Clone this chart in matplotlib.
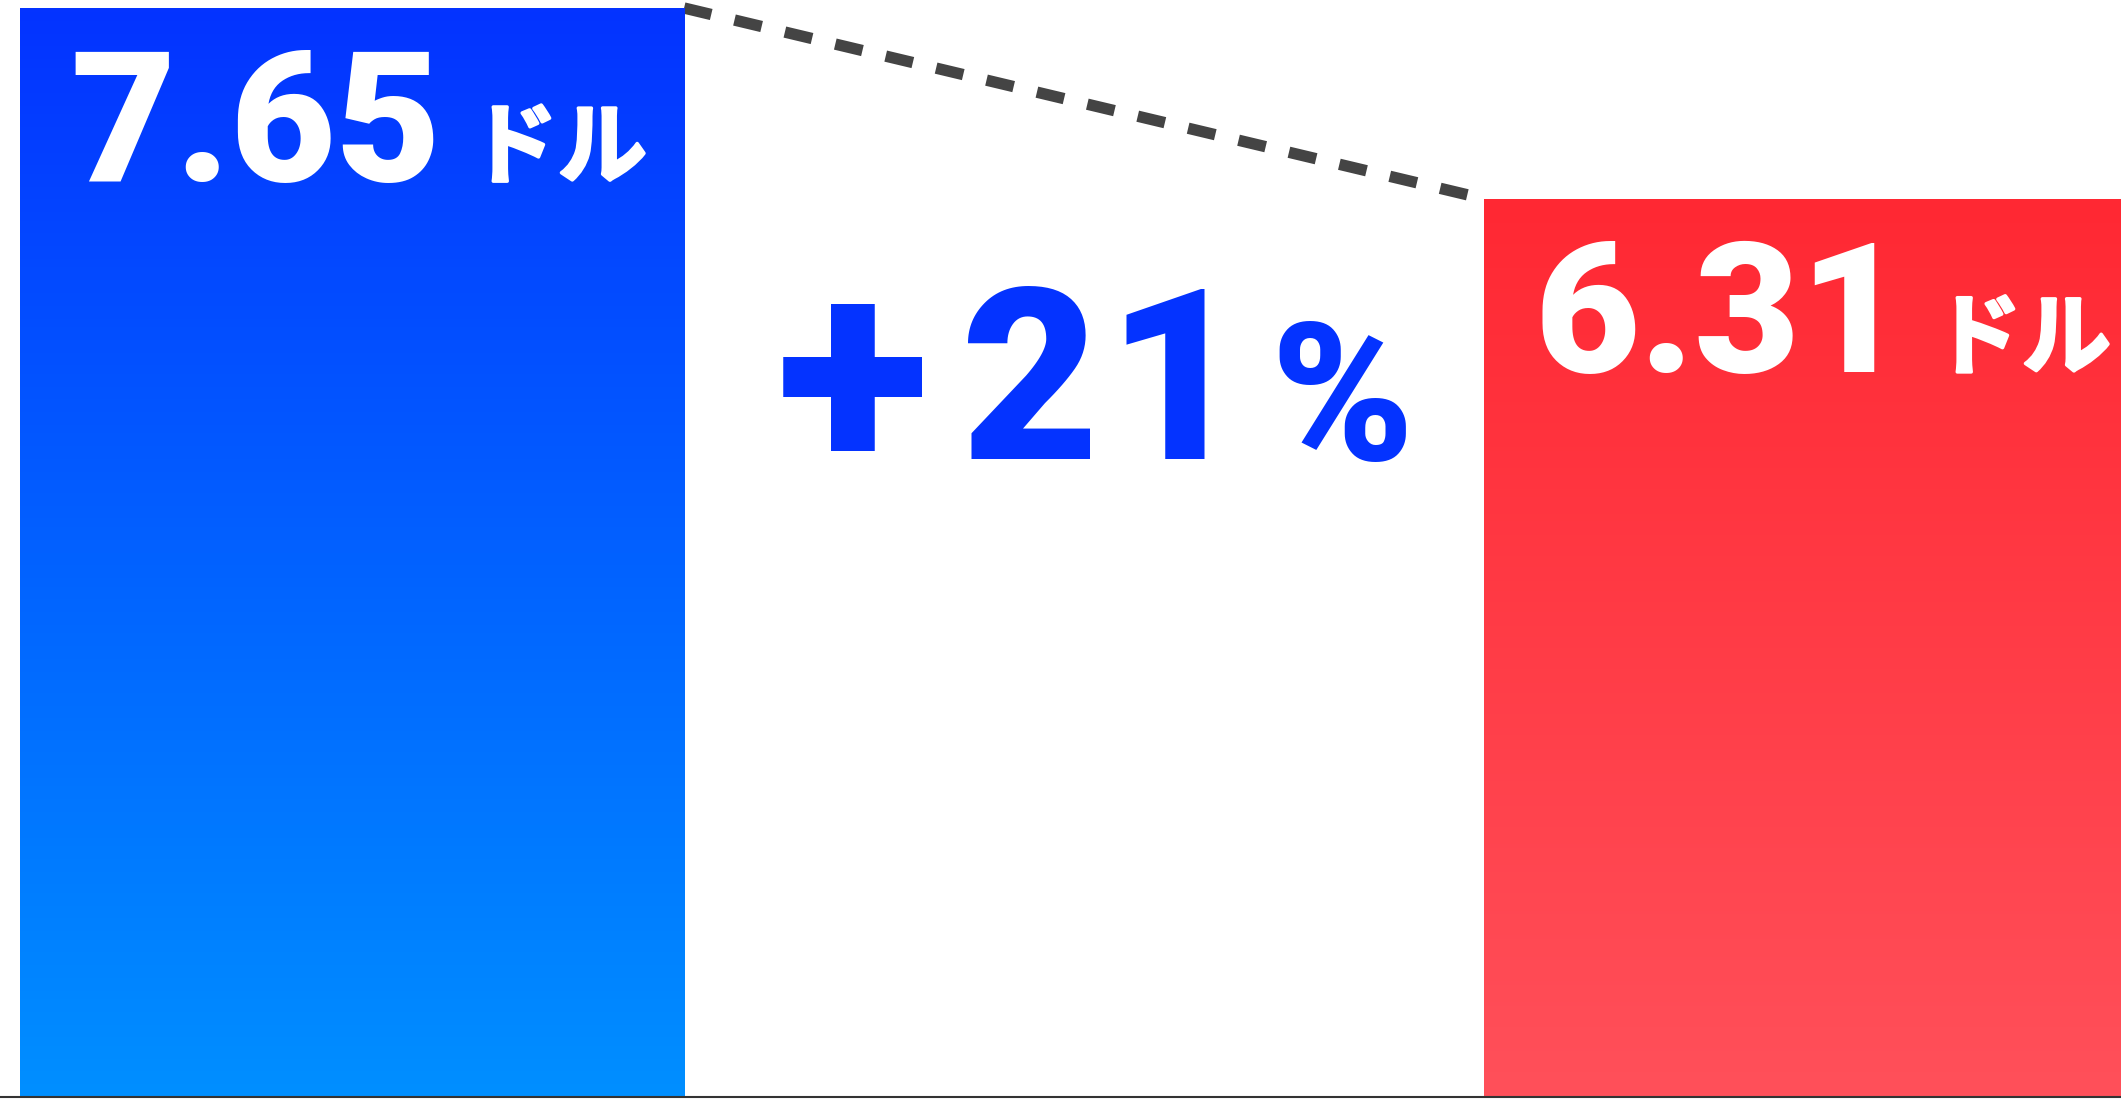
import numpy as np
import matplotlib.pyplot as plt
import matplotlib.patheffects as pe
from matplotlib.colors import LinearSegmentedColormap
from matplotlib.transforms import offset_copy

# data
labels = ["7.65", "6.31"]
values = [7.65, 6.31]
unit = "ドル"
change_chars = ["+", "2", "1", "%"]

top_colors = ["#0433ff", "#ff2833"]
bottom_colors = ["#008fff", "#ff505a"]
change_color = "#0433ff"

num_font = ["Roboto", "Noto Sans CJK JP", "DejaVu Sans"]
jp_font = ["Noto Sans CJK JP", "DejaVu Sans"]

fig = plt.figure(figsize=(21.21, 11), dpi=100)
ax = fig.add_axes([0, 0, 1, 1])
ax.set_axis_off()

x = np.arange(len(values))
w = 0.4536
px = 1464.0  # pixels per x unit
ax.set_xlim(-w / 2 - 20 / px, -w / 2 - 20 / px + 2121 / px)
ax.set_ylim(-3 / 142.35, 1097 / 142.35)

bars = ax.bar(x, values, width=w, color="none", zorder=2)

# gradient fill in each bar
for b, c_top, c_bot in zip(bars, top_colors, bottom_colors):
    cmap = LinearSegmentedColormap.from_list("g", [c_bot, c_top])
    grad = np.linspace(0, 1, 256).reshape(-1, 1)
    x0 = b.get_x()
    h = b.get_height()
    im = ax.imshow(grad, extent=[x0, x0 + b.get_width(), 0, h], origin="lower",
                   cmap=cmap, aspect="auto", zorder=2)
    im.set_clip_path(b)

# dashed connector between bar tops
ln, = ax.plot([x[0] + w / 2, x[1] - w / 2], values, color="#444444", lw=8.2,
              solid_capstyle="butt", dash_capstyle="butt", zorder=1)
ln.set_dashes((2.45, 2.1))

ax.axhline(0, color="#333333", lw=1.5, zorder=3)

# heavier katakana
thick = [pe.withStroke(linewidth=2.5, foreground="white")]

# value labels (offsets in pixels from the bar's top-left corner)
for b, v, lab in zip(bars, values, labels):
    tr = offset_copy(ax.transData, fig=fig, x=50, y=-173, units="dots")
    ax.text(b.get_x(), v, lab, transform=tr, color="white", fontsize=131,
            family=num_font, fontweight="black", ha="left", va="baseline",
            zorder=4)
    tr = offset_copy(ax.transData, fig=fig, x=449, y=-168, units="dots")
    ax.text(b.get_x(), v, unit, transform=tr, color="white", fontsize=64,
            family=jp_font, fontweight="bold", ha="left",
            va="baseline", zorder=4, path_effects=thick)

# change annotation, centred in the gap between the bars
mid = (bars[0].get_x() + w + bars[1].get_x()) / 2
char_dx = [-231, -54, 92, 258]
char_dy = [-272, -260, -260, -261]
char_size = [205, 172, 172, 139]
for ch, dx, dy, fs in zip(change_chars, char_dx, char_dy, char_size):
    tr = offset_copy(ax.transData, fig=fig, x=dx, y=dy, units="dots")
    ax.text(mid, values[1], ch, transform=tr, color=change_color,
            fontsize=fs, family=num_font, fontweight="black",
            ha="center", va="baseline")

fig.savefig("out.png", dpi=100)
